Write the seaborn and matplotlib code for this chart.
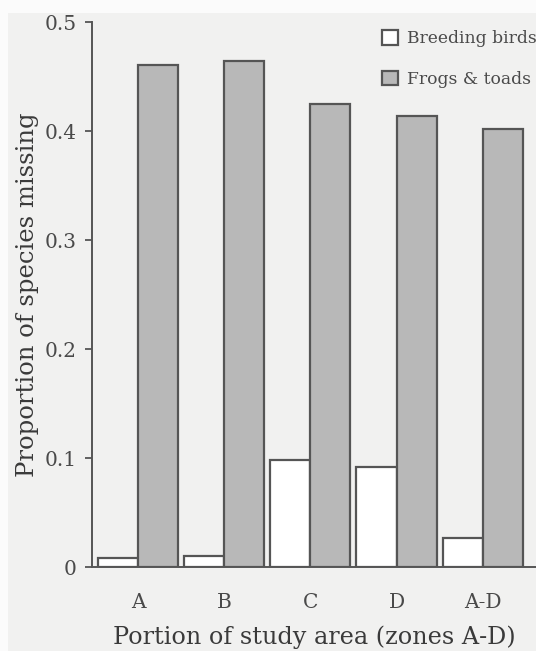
import matplotlib
matplotlib.use("Agg")
import matplotlib.pyplot as plt
from matplotlib.patches import Rectangle
import seaborn as sns
import pandas as pd

zones = ["A", "B", "C", "D", "A-D"]
birds = [0.008, 0.010, 0.098, 0.092, 0.027]
frogs = [0.461, 0.464, 0.425, 0.414, 0.402]
series = ["Breeding birds", "Frogs & toads"]

df = pd.DataFrame({
    "zone": zones * 2,
    "value": birds + frogs,
    "group": [series[0]] * len(zones) + [series[1]] * len(zones),
})

sns.set_theme(style="white")
plt.rcParams["font.family"] = ["DejaVu Serif"]
bg = "#f1f1f0"
fig = plt.figure(figsize=(5.36, 6.51), dpi=100, facecolor="#fbfbfb")
fig.patches.append(Rectangle((8 / 536, 0), 1, 1 - 13 / 651, transform=fig.transFigure,
                             facecolor=bg, edgecolor="none", zorder=-10))
ax = fig.add_axes([0.172, 0.129, 0.828, 0.837])
ax.set_facecolor("none")

sns.barplot(data=df, x="zone", y="value", hue="group", order=zones,
            hue_order=series, palette=["#ffffff", "#b8b8b8"], width=0.93,
            edgecolor="#555555", linewidth=1.6, ax=ax, legend=True)

ax.set_xlim(-0.535, 4.62)
ax.set_ylim(0, 0.5)
ax.set_yticks([0, 0.1, 0.2, 0.3, 0.4, 0.5])
ax.set_yticklabels(["0", "0.1", "0.2", "0.3", "0.4", "0.5"])
for s in ["top", "right"]:
    ax.spines[s].set_visible(False)
for s in ["left", "bottom"]:
    ax.spines[s].set_color("#555555")
    ax.spines[s].set_linewidth(1.4)
ax.tick_params(axis="y", which="both", left=True, length=5, width=1.3,
               color="#555555", labelsize=14.5, labelcolor="#4a4a4a", pad=6)
ax.tick_params(axis="x", bottom=False, length=0, labelsize=14.5,
               labelcolor="#4a4a4a", pad=18.5)
ax.set_xlabel("Portion of study area (zones A-D)", fontsize=17.2, color="#3a3a3a", labelpad=10)
ax.set_ylabel("Proportion of species missing", fontsize=17.5, color="#3a3a3a", labelpad=4)

leg = ax.legend(loc="upper left", bbox_to_anchor=(0.653, 0.985), frameon=False,
                borderpad=0, borderaxespad=0,
                fontsize=12.3, handlelength=0.94, handleheight=0.94, handletextpad=0.55,
                labelspacing=1.35, labelcolor="#4a4a4a")

fig.savefig("out.png", dpi=100, facecolor=fig.get_facecolor())
